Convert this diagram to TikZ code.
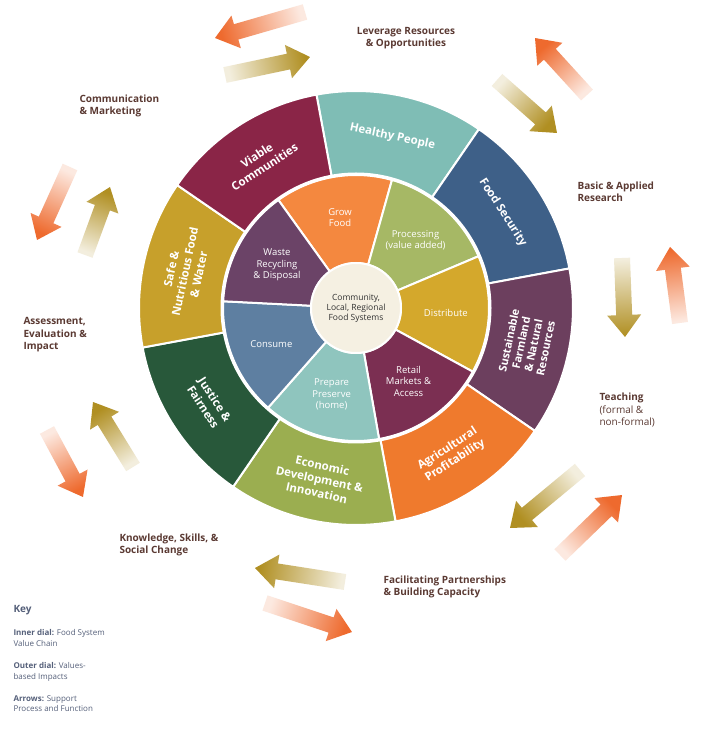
\documentclass[tikz,border=0pt]{standalone}
\usepackage{fontspec}
\setmainfont{Open Sans}
\usetikzlibrary{calc}
\definecolor{lab}{HTML}{5B3A33}
\definecolor{keyc}{HTML}{55607A}
\definecolor{aor}{HTML}{EE6A2E}
\definecolor{aol}{HTML}{B08F22}
\definecolor{cHP}{HTML}{7FBDB5}
\definecolor{cFS}{HTML}{3E6088}
\definecolor{cSF}{HTML}{6C3F5E}
\definecolor{cAP}{HTML}{EF7A2D}
\definecolor{cED}{HTML}{9BAE50}
\definecolor{cJF}{HTML}{28583A}
\definecolor{cSN}{HTML}{C7A02B}
\definecolor{cVC}{HTML}{8A2547}
\definecolor{iGF}{HTML}{F4883F}
\definecolor{iPR}{HTML}{A6B865}
\definecolor{iDI}{HTML}{D4A82C}
\definecolor{iRM}{HTML}{7B2F52}
\definecolor{iPP}{HTML}{8FC5BE}
\definecolor{iCO}{HTML}{5E7FA1}
\definecolor{iWR}{HTML}{6B4367}
\definecolor{ctr}{HTML}{F5F0E2}
\newcommand{\seg}[5]{\fill[#5,draw=white,line width=2pt] (#1:#3) -- (#1:#4) arc[start angle=#1,end angle=#2,radius=#4] -- (#2:#3) arc[start angle=#2,end angle=#1,radius=#3] -- cycle;}
\newcommand{\barrow}[5]{%
 \path let \p1=($(#3,#4)-(#1,#2)$), \n1={atan2(\y1,\x1)}, \n2={veclen(\x1,\y1)} in
 [shift={(#1,#2)},rotate=\n1]
 [shade,top color=#5,bottom color=white!85!#5,shading angle=\n1-90]
 (0,-8) -- ({\n2-22},-8) -- ({\n2-22},-17) -- (\n2,0) -- ({\n2-22},17) -- ({\n2-22},8) -- (0,8) -- cycle;}
\tikzset{outer/.style={text=white,font=\bfseries\fontsize{11.5}{14}\selectfont,align=center},
 inner/.style={text=white,font=\fontsize{9.5}{11.5}\selectfont,align=center},
 lbl/.style={text=lab,font=\bfseries\fontsize{10}{12.5}\selectfont,align=left,anchor=west},
 keyt/.style={text=keyc,font=\fontsize{8}{10.5}\selectfont,align=left,anchor=north west}}
\begin{document}
\begin{tikzpicture}[x=1pt,y=1pt]
\useasboundingbox[fill=white] (0,0) rectangle (720,750);
\barrow{305}{738}{215}{712}{aor}
\barrow{225}{675}{310}{693}{aol}
\barrow{587}{655}{535}{712}{aor}
\barrow{497}{670}{557}{617}{aol}
\barrow{622}{492}{625}{413}{aol}
\barrow{680}{427}{670}{503}{aor}
\barrow{580}{280}{510}{222}{aol}
\barrow{560}{195}{622}{255}{aor}
\barrow{345}{168}{255}{182}{aol}
\barrow{265}{147}{352}{118}{aor}
\barrow{133}{283}{93}{348}{aol}
\barrow{47}{320}{83}{253}{aor}
\barrow{85}{495}{110}{563}{aol}
\barrow{70}{583}{37}{510}{aor}
\begin{scope}[shift={(356,442)}]
\fill[white] (0,0) circle (221);
\seg{55.5}{100.5}{133}{217}{cHP}
\seg{10.5}{55.5}{133}{217}{cFS}
\seg{-34.5}{10.5}{133}{217}{cSF}
\seg{-79.5}{-34.5}{133}{217}{cAP}
\seg{-124.5}{-79.5}{133}{217}{cED}
\seg{-169.5}{-124.5}{133}{217}{cJF}
\seg{145.5}{190.5}{133}{217}{cSN}
\seg{100.5}{145.5}{133}{217}{cVC}
\seg{74.3}{125.7}{45}{133}{iGF}
\seg{22.9}{74.3}{45}{133}{iPR}
\seg{-28.6}{22.9}{45}{133}{iDI}
\seg{-80}{-28.6}{45}{133}{iRM}
\seg{-131.4}{-80}{45}{133}{iPP}
\seg{177.1}{228.6}{45}{133}{iCO}
\seg{125.7}{177.1}{45}{133}{iWR}
\draw[white,line width=3pt] (0,0) circle (134);
\node[circle,fill=ctr,draw=white,line width=2pt,minimum size=90pt,inner sep=0pt,font=\fontsize{8.5}{10}\selectfont,text=black!80,align=center] (hub) at (0,0) {Community,\\Local, Regional\\Food Systems};
\node[outer,rotate=-12] (hp) at (78:175) {Healthy People};
\node[outer,rotate=-57] (fs) at (33:175) {Food Security};
\node[outer,rotate=78,font=\bfseries\fontsize{11}{12.5}\selectfont] (sf) at (-12:175) {Sustainable\\Farmland\\\& Natural\\Resources};
\node[outer,rotate=33] (ap) at (-57:175) {Agricultural\\Profitability};
\node[outer,rotate=-12] (ed) at (-102:175) {Economic\\Development \&\\Innovation};
\node[outer,rotate=-57] (jf) at (-147:175) {Justice \&\\Fairness};
\node[outer,rotate=78] (sn) at (168:175) {Safe \&\\Nutritious Food\\\& Water};
\node[outer,rotate=33] (vc) at (123:175) {Viable\\Communities};
\node[inner] (gf) at (100:92) {Grow\\Food};
\node[inner] (pr) at (48.6:90) {Processing\\(value added)};
\node[inner] (di) at (-3:90) {Distribute};
\node[inner] (rm) at (-54.3:90) {Retail\\Markets \&\\Access};
\node[inner] (pp) at (-105.7:90) {Prepare\\Preserve\\(home)};
\node[inner] (co) at (-157:92) {Consume};
\node[inner] (wr) at (151.4:90) {Waste\\Recycling\\\& Disposal};
\end{scope}
\node[lbl,align=center,anchor=center] (l1) at (406,712) {Leverage Resources\\\& Opportunities};
\node[lbl] (l2) at (76,644) {Communication\\\& Marketing};
\node[lbl] (l3) at (574,558) {Basic \& Applied\\Research};
\node[lbl] (l4) at (20,415) {Assessment,\\Evaluation \&\\Impact};
\node[lbl,font=\fontsize{10}{12.5}\selectfont] (l5) at (596,340) {\textbf{Teaching}\\(formal \&\\non-formal)};
\node[lbl] (l6) at (116,205) {Knowledge, Skills, \&\\Social Change};
\node[lbl] (l7) at (380,163) {Facilitating Partnerships\\\& Building Capacity};
\node[text=keyc,font=\bfseries\fontsize{10}{12}\selectfont,anchor=west] (key) at (10,140) {Key};
\node[keyt] (k1) at (10,124) {\textbf{Inner dial:} Food System\\Value Chain};
\node[keyt] (k2) at (10,91) {\textbf{Outer dial:} Values-\\based Impacts};
\node[keyt] (k3) at (10,58) {\textbf{Arrows:} Support\\Process and Function};
\end{tikzpicture}
\end{document}
